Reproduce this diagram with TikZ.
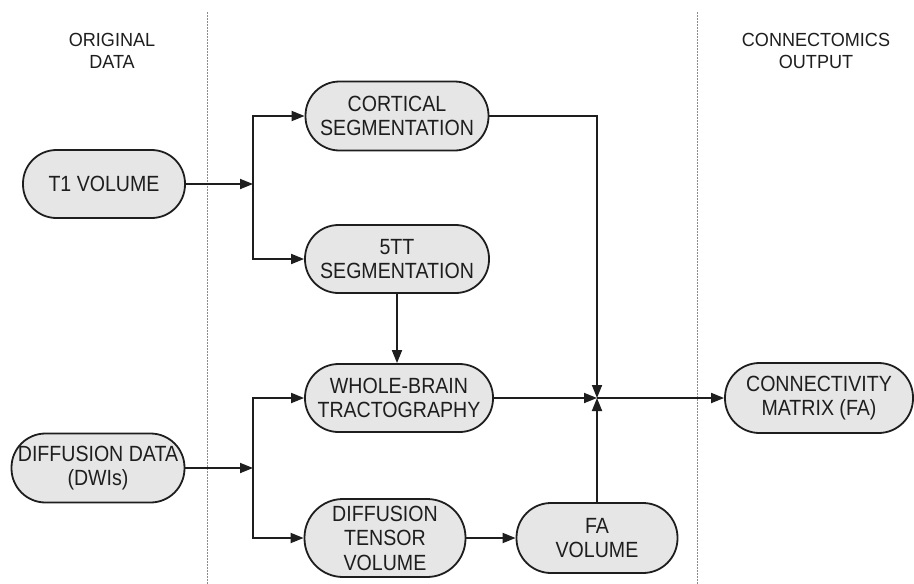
\documentclass[tikz,border=0pt]{standalone}
\usepackage{fontspec}
\setmainfont{Liberation Sans}
\newfontfamily\boxfont[FakeStretch=0.89]{Liberation Sans}
\newfontfamily\hdrfont[FakeStretch=0.95]{Liberation Sans}
\usetikzlibrary{arrows.meta}
\definecolor{boxgray}{HTML}{E6E6E6}
\definecolor{sepgray}{HTML}{8C8C8C}
\definecolor{inkblack}{HTML}{1E1E1E}
\begin{document}
\begin{tikzpicture}[x=1pt,y=-1pt,
  box/.style={rectangle, draw=inkblack, line width=1.8pt, fill=boxgray, inner sep=0pt,
    align=center, font=\boxfont\fontsize{22}{24.5}\selectfont, text=inkblack},
  arr/.style={draw=inkblack, line width=1.8pt, -{Triangle[length=13pt,width=10pt]}},
  sep/.style={draw=sepgray, line width=1pt, dash pattern=on 1.5pt off 1.5pt},
  hdr/.style={align=center, font=\hdrfont\fontsize{19}{22}\selectfont, text=inkblack}]
\useasboundingbox (0,0) rectangle (914,584);

% separators
\draw[sep] (207,12) -- (207,584);
\draw[sep] (697,12) -- (697,584);

% headers
\node[hdr] (h1) at (112,51) {ORIGINAL\\DATA};
\node[hdr] (h2) at (816,51) {CONNECTOMICS\\OUTPUT};

% nodes
\node[box, minimum width=162pt, minimum height=68pt, rounded corners=33.5pt] (t1) at (104,184) {T1 VOLUME};
\node[box, minimum width=183pt, minimum height=69pt, rounded corners=34pt] (cort) at (397,116) {CORTICAL\\SEGMENTATION};
\node[box, minimum width=184pt, minimum height=68pt, rounded corners=33.5pt] (ftt) at (397,259) {5TT\\SEGMENTATION};
\node[box, minimum width=188pt, minimum height=68pt, rounded corners=33.5pt] (wbt) at (399,398) {WHOLE-BRAIN\\TRACTOGRAPHY};
\node[box, minimum width=173pt, minimum height=69pt, rounded corners=34pt] (dd) at (98,468) {DIFFUSION DATA\\(DWIs)};
\node[box, minimum width=161pt, minimum height=78pt, rounded corners=38.5pt] (dtv) at (385,538) {DIFFUSION\\TENSOR\\VOLUME};
\node[box, minimum width=161pt, minimum height=70pt, rounded corners=34.5pt] (fa) at (597,538) {FA\\VOLUME};
\node[box, minimum width=188pt, minimum height=70pt, rounded corners=34.5pt] (cm) at (819,398) {CONNECTIVITY\\MATRIX (FA)};

% junction coordinates
\coordinate (b1) at (253,184);
\coordinate (b2) at (253,468);
\coordinate (j) at (597,398);

% connectors
\draw[arr] (t1.east) -- (b1);
\draw[arr] (b1) |- (cort.west);
\draw[arr] (b1) |- (ftt.west);
\draw[arr] (dd.east) -- (b2);
\draw[arr] (b2) |- (wbt.west);
\draw[arr] (b2) |- (dtv.west);
\draw[arr] (ftt.south) -- (ftt.south |- wbt.north);
\draw[arr] (cort.east) -| (j);
\draw[arr] (wbt.east) -- (j);
\draw[arr] (fa.north) -- (j);
\draw[arr] (j) -- (cm.west);
\draw[arr] (dtv.east) -- (fa.west);
\end{tikzpicture}
\end{document}
